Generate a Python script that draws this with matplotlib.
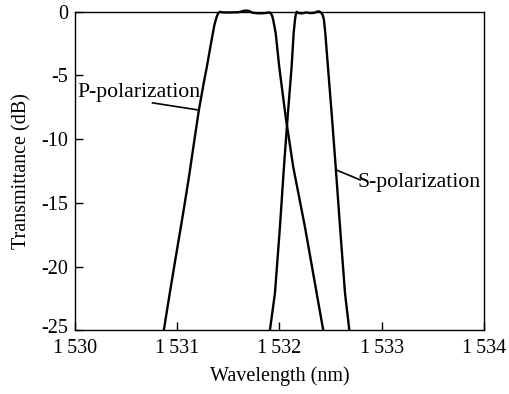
import matplotlib
matplotlib.use("Agg")
import matplotlib.pyplot as plt
import matplotlib.transforms as mtransforms

# P-polarization curve (wavelength nm, transmittance dB)
p_wl = [1530.870, 1530.930, 1530.992, 1531.055, 1531.115, 1531.170, 1531.213,
        1531.262, 1531.291, 1531.335, 1531.365, 1531.386, 1531.402, 1531.418,
        1531.45, 1531.52, 1531.60, 1531.64, 1531.67, 1531.70, 1531.74, 1531.80,
        1531.86, 1531.90, 1531.914, 1531.928, 1531.939, 1531.963, 1531.998,
        1532.061, 1532.135, 1532.249, 1532.364, 1532.428]
p_db = [-25, -22, -19, -16, -13, -10, -7.7,
        -5.5, -4.3, -2.3, -1.0, -0.4, -0.1, 0.0,
        -0.05, -0.05, -0.03, 0.05, 0.1, 0.08, -0.08, -0.12,
        -0.1, -0.05, -0.1, -0.3, -0.63, -1.65, -4.32,
        -8.25, -12.19, -16.88, -22.1, -25]

# S-polarization curve
s_wl = [1531.907, 1531.956, 1532.005, 1532.044, 1532.080, 1532.119, 1532.139,
        1532.152, 1532.160, 1532.168, 1532.19, 1532.22, 1532.26, 1532.30,
        1532.34, 1532.37, 1532.39, 1532.405, 1532.423, 1532.435, 1532.448,
        1532.474, 1532.513, 1532.550, 1532.592, 1532.641, 1532.683]
s_db = [-25, -22.1, -16.88, -12.19, -8.25, -4.32, -1.65,
        -0.63, -0.2, 0.0, -0.1, -0.12, -0.05, -0.1,
        -0.08, 0.02, 0.03, -0.05, -0.25, -0.63, -1.65,
        -4.32, -8.25, -12.19, -16.88, -22.1, -25]

x_ticks = [1530, 1531, 1532, 1533, 1534]
x_labels = ["1\u2009530", "1\u2009531", "1\u2009532", "1\u2009533", "1\u2009534"]
y_ticks = [0, -5, -10, -15, -20, -25]

plt.rcParams["font.family"] = ["Liberation Serif", "DejaVu Serif"]
plt.rcParams["font.size"] = 14.5

fig = plt.figure(figsize=(5.09, 3.94), dpi=100)
ax = fig.add_axes([0.147, 0.162, 0.804, 0.808])

ax.plot(p_wl, p_db, color="black", lw=1.7, clip_on=False,
        solid_joinstyle="round", solid_capstyle="butt")
ax.plot(s_wl, s_db, color="black", lw=1.7, clip_on=False,
        solid_joinstyle="round", solid_capstyle="butt")

ax.set_xlim(1530, 1534)
ax.set_ylim(-25, 0)
ax.set_xticks(x_ticks)
ax.set_xticklabels(x_labels)
ax.set_yticks(y_ticks)
ax.set_yticklabels([str(v) for v in y_ticks])
ax.tick_params(direction="in", length=6, width=1)
ax.tick_params(axis="x", pad=6)
ax.tick_params(axis="y", pad=5)
for s in ax.spines.values():
    s.set_linewidth(1)

# nudge the bottom y label up so it clears the first x label
lab = ax.get_yticklabels()[-1]
lab.set_transform(lab.get_transform() +
                  mtransforms.ScaledTranslation(0, 3 / 72, fig.dpi_scale_trans))

ax.set_xlabel("Wavelength (nm)", labelpad=6)
ax.set_ylabel("Transmittance (dB)", labelpad=7)

# annotations
ax.text(1530.02, -6.3, "P-polarization", va="center", ha="left", fontsize=15.7)
ax.plot([1530.76, 1531.20], [-7.15, -7.7], color="black", lw=1.2)
ax.text(1532.76, -13.4, "S-polarization", va="center", ha="left", fontsize=15.7)
ax.plot([1532.55, 1532.79], [-12.4, -13.2], color="black", lw=1.2)

fig.savefig("out.png", dpi=100)
